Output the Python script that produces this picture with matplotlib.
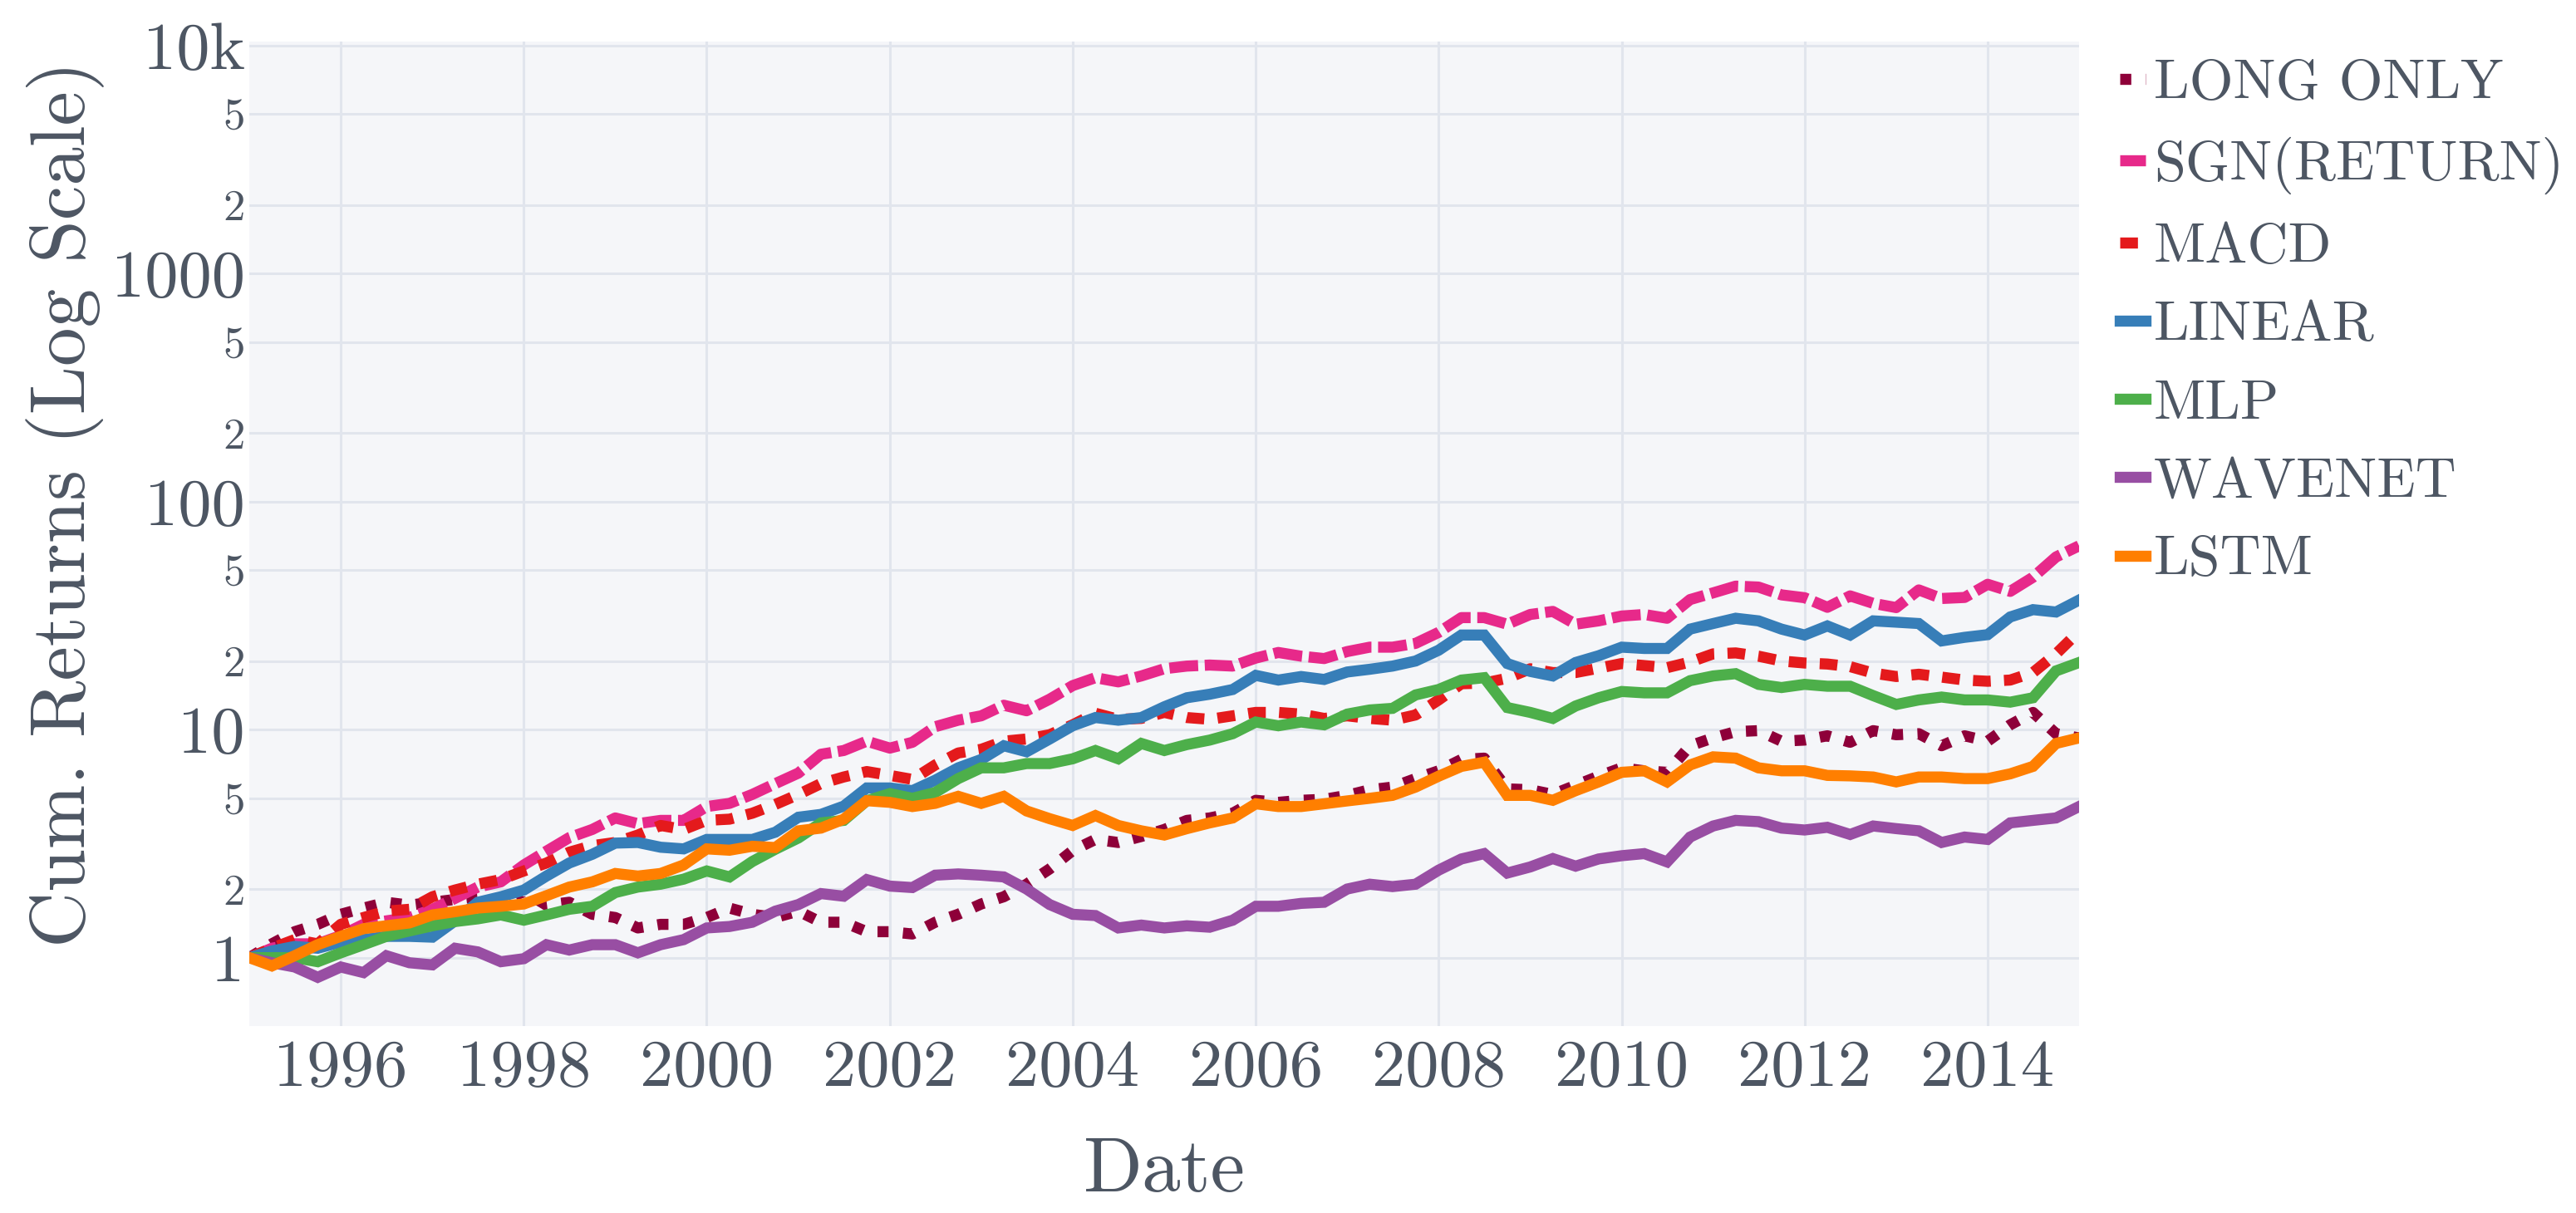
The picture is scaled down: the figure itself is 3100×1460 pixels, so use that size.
import matplotlib
matplotlib.use("Agg")
import matplotlib.pyplot as plt
import matplotlib.dates as mdates
import pandas as pd

# quarterly readings, 1995-01 .. 2015-01
dates = pd.date_range("1995-01-01", "2015-01-01", freq="QS")

long_only = [1.0, 1.15, 1.3, 1.4, 1.55, 1.65, 1.75, 1.7, 1.75, 1.8, 1.85, 1.75,
             1.95, 1.7, 1.75, 1.55, 1.5, 1.35, 1.4, 1.4, 1.5, 1.65, 1.55, 1.5,
             1.6, 1.43, 1.43, 1.3, 1.3, 1.27, 1.43, 1.55, 1.72, 1.85, 2.1, 2.45,
             2.95, 3.3, 3.2, 3.4, 3.65, 4.0, 4.1, 4.3, 4.9, 4.8, 4.9, 4.95,
             5.15, 5.45, 5.6, 6.1, 6.6, 7.4, 7.5, 5.5, 5.45, 5.2, 5.7, 6.25,
             6.8, 6.6, 6.5, 8.5, 9.2, 9.8, 9.9, 8.9, 9.0, 9.4, 8.8, 9.9,
             9.5, 9.6, 8.5, 9.4, 8.9, 10.5, 11.9, 9.6, 9.2]
sgn_return = [1.0, 1.1, 1.15, 1.15, 1.25, 1.4, 1.45, 1.5, 1.63, 1.82, 2.04, 2.15,
              2.55, 2.93, 3.36, 3.65, 4.1, 3.87, 4.0, 4.0, 4.6, 4.75, 5.2, 5.8,
              6.45, 7.8, 8.1, 8.9, 8.3, 8.8, 10.3, 11.0, 11.5, 12.8, 12.1, 13.6,
              15.6, 16.9, 16.2, 17.2, 18.5, 19.0, 19.2, 19.0, 20.6, 21.8, 21.0, 20.5,
              22.0, 23.0, 23.0, 23.9, 26.7, 31.0, 31.0, 29.0, 32.0, 33.0, 29.0, 30.0,
              31.5, 32.0, 30.8, 37.2, 39.8, 42.6, 42.2, 39.0, 37.9, 34.4, 38.6, 35.8,
              34.3, 41.0, 37.6, 38.0, 43.4, 40.4, 46.6, 57.2, 64.0]
macd = [1.0, 1.1, 1.2, 1.15, 1.4, 1.5, 1.6, 1.63, 1.85, 1.98, 2.1, 2.2,
        2.4, 2.6, 2.9, 3.1, 3.2, 3.45, 3.8, 3.65, 4.0, 4.05, 4.3, 4.7,
        5.2, 5.8, 6.2, 6.55, 6.3, 6.05, 7.0, 7.9, 8.2, 8.9, 9.1, 9.5,
        10.5, 11.8, 11.1, 11.2, 11.9, 11.3, 11.1, 11.5, 11.9, 11.9, 11.7, 11.2,
        11.5, 11.2, 11.0, 11.6, 13.5, 15.9, 16.0, 16.8, 18.5, 17.8, 17.8, 18.6,
        19.5, 19.1, 18.7, 19.8, 21.5, 21.7, 21.0, 20.0, 19.6, 19.4, 18.9, 17.7,
        17.1, 17.5, 17.0, 16.5, 16.3, 16.5, 17.8, 21.5, 27.0]
linear = [1.0, 1.07, 1.12, 1.1, 1.17, 1.2, 1.24, 1.24, 1.23, 1.45, 1.75, 1.85,
          1.98, 2.28, 2.6, 2.84, 3.18, 3.2, 3.05, 3.0, 3.3, 3.3, 3.3, 3.55,
          4.13, 4.25, 4.62, 5.55, 5.55, 5.4, 6.0, 6.8, 7.4, 8.5, 8.0, 9.1,
          10.4, 11.3, 11.0, 11.3, 12.6, 13.8, 14.3, 15.0, 17.3, 16.5, 17.1, 16.6,
          17.9, 18.4, 19.0, 20.0, 22.3, 26.0, 26.0, 19.5, 18.0, 17.2, 19.7, 21.1,
          23.0, 22.7, 22.7, 27.6, 29.2, 30.8, 30.0, 27.6, 26.0, 28.5, 26.0, 30.0,
          29.6, 29.2, 24.5, 25.4, 26.1, 31.2, 33.6, 32.8, 37.0]
mlp = [1.0, 1.0, 1.0, 0.96, 1.05, 1.14, 1.24, 1.31, 1.38, 1.44, 1.48, 1.54,
       1.46, 1.54, 1.63, 1.68, 1.93, 2.04, 2.1, 2.21, 2.4, 2.26, 2.64, 2.99,
       3.35, 3.9, 4.0, 4.88, 5.24, 5.0, 5.3, 6.1, 6.8, 6.8, 7.1, 7.1,
       7.45, 8.1, 7.45, 8.7, 8.1, 8.6, 9.0, 9.6, 10.8, 10.4, 10.8, 10.5,
       11.7, 12.2, 12.4, 14.2, 15.0, 16.5, 16.9, 12.5, 11.9, 11.2, 12.7, 13.8,
       14.7, 14.5, 14.5, 16.4, 17.2, 17.6, 15.8, 15.3, 15.8, 15.5, 15.5, 14.1,
       12.9, 13.5, 13.9, 13.5, 13.5, 13.2, 13.8, 18.1, 19.7]
wavenet = [1.0, 0.95, 0.91, 0.82, 0.91, 0.86, 1.02, 0.95, 0.93, 1.1, 1.06, 0.96,
           0.99, 1.14, 1.08, 1.14, 1.14, 1.05, 1.14, 1.2, 1.35, 1.37, 1.43, 1.6,
           1.71, 1.91, 1.86, 2.2, 2.06, 2.03, 2.3, 2.33, 2.3, 2.26, 2.0, 1.71,
           1.55, 1.53, 1.35, 1.39, 1.35, 1.38, 1.36, 1.46, 1.68, 1.68, 1.73, 1.75,
           2.0, 2.1, 2.05, 2.1, 2.42, 2.71, 2.86, 2.35, 2.5, 2.72, 2.52, 2.71,
           2.8, 2.86, 2.63, 3.38, 3.78, 4.0, 3.95, 3.7, 3.63, 3.73, 3.47, 3.78,
           3.68, 3.6, 3.2, 3.38, 3.3, 3.9, 4.0, 4.1, 4.6]
lstm = [1.0, 0.92, 1.02, 1.14, 1.24, 1.34, 1.38, 1.42, 1.54, 1.59, 1.65, 1.68,
        1.72, 1.87, 2.04, 2.15, 2.34, 2.28, 2.34, 2.55, 3.0, 2.96, 3.08, 3.04,
        3.6, 3.7, 4.05, 4.88, 4.8, 4.6, 4.75, 5.1, 4.75, 5.1, 4.4, 4.07,
        3.8, 4.2, 3.8, 3.6, 3.45, 3.68, 3.9, 4.1, 4.73, 4.6, 4.6, 4.73,
        4.87, 5.0, 5.15, 5.6, 6.25, 6.9, 7.2, 5.15, 5.15, 4.9, 5.4, 5.9,
        6.5, 6.6, 5.9, 7.0, 7.6, 7.5, 6.8, 6.6, 6.6, 6.3, 6.27, 6.2,
        5.9, 6.2, 6.2, 6.1, 6.1, 6.4, 6.9, 8.7, 9.2]

names = ["LONG ONLY", "SGN(RETURN)", "MACD", "LINEAR", "MLP", "WAVENET", "LSTM"]
series = [long_only, sgn_return, macd, linear, mlp, wavenet, lstm]
colors = ["#8E0039", "#E7298A", "#E41A1C", "#377EB8", "#4DAF4A", "#984EA3", "#FF7F00"]
dash_styles = [(0, (1, 1.3)), (0, (2.6, 0.6)), (0, (1.6, 1.2)), "-", "-", "-", "-"]

text_color = "#4D5663"
font = ["cmr10", "DejaVu Serif"]

fig = plt.figure(figsize=(15.5, 7.3), dpi=200)
ax = fig.add_axes([0.0968, 0.1541, 0.7103, 0.8117])
ax.set_facecolor("#F5F6F9")
for s in ax.spines.values():
    s.set_visible(False)

for name, vals, c, ls in zip(names, series, colors, dash_styles):
    ax.plot(dates, vals, color=c, lw=4.8, ls=ls, label=name,
            solid_joinstyle="miter", dash_capstyle="butt")

ax.set_yscale("log")
ax.set_ylim(10 ** -0.3, 10 ** 4.018)
ax.set_xlim(pd.Timestamp("1995-01-01"), pd.Timestamp("2015-01-01"))

major = [1, 10, 100, 1000, 10000]
major_labels = ["1", "10", "100", "1000", "10k"]
minor = [2, 5, 20, 50, 200, 500, 2000, 5000]
minor_labels = ["2", "5", "2", "5", "2", "5", "2", "5"]
ax.set_yticks(major)
ax.set_yticklabels(major_labels, fontsize=29, family=font, color=text_color)
ax.set_yticks(minor, minor=True)
ax.set_yticklabels(minor_labels, minor=True, fontsize=19, family=font, color=text_color)

ax.xaxis.set_major_locator(mdates.YearLocator(2))
ax.xaxis.set_major_formatter(mdates.DateFormatter("%Y"))
for lab in ax.get_xticklabels():
    lab.set_fontsize(29)
    lab.set_family(font)
    lab.set_color(text_color)

ax.tick_params(axis="both", which="both", length=0)
ax.tick_params(axis="x", pad=6)
ax.tick_params(axis="y", which="both", pad=2)
ax.grid(True, which="both", color="#E1E5ED", lw=1.1)
ax.set_axisbelow(True)

ax.set_xlabel("Date", fontsize=33.5, family=font, color=text_color)
ax.xaxis.set_label_coords(0.5, -0.148)
ax.xaxis.label.set_va("center")
ax.set_ylabel("Cum. Returns (Log Scale)", fontsize=33.5, family=font, color=text_color)
ax.yaxis.set_label_coords(-0.1004, 0.53)
ax.yaxis.label.set_va("center")

leg = ax.legend(loc="upper left", bbox_to_anchor=(2551 / 3100, 1 - 71 / 1460),
                bbox_transform=fig.transFigure, frameon=False,
                handlelength=0.45, handletextpad=0.15, labelspacing=0.485,
                borderaxespad=0, borderpad=0, prop={"family": font, "size": 24.5})
for t in leg.get_texts():
    t.set_color(text_color)

fig.savefig("out.png", dpi=200, facecolor="white")
